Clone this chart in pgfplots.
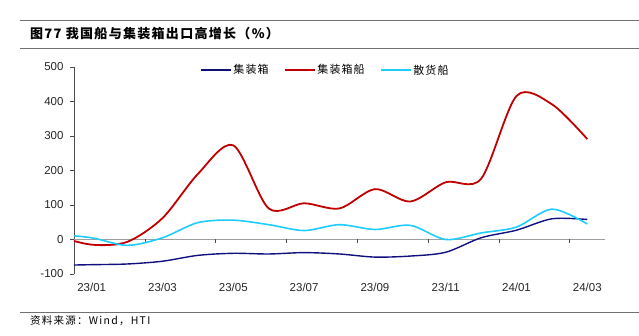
\documentclass[border=0pt]{standalone}
\usepackage{pgfplots}
\pgfplotsset{compat=1.18}
\usepackage{fontspec}
\setmainfont{Liberation Sans}
\newfontfamily\cjk{Noto Sans CJK SC}
\newfontfamily\cjktitle[LetterSpace=10]{Noto Sans CJK SC}
\newfontfamily\cjkspaced[LetterSpace=12]{Noto Sans CJK SC}
\newfontfamily\cjkleg[LetterSpace=10]{Noto Sans CJK SC}
\definecolor{cnavy}{HTML}{10107F}
\definecolor{cred}{HTML}{C00000}
\definecolor{ccyan}{HTML}{1ECCFF}
\definecolor{rulegray}{HTML}{707070}

\begin{document}
\begin{tikzpicture}
\path[use as bounding box] (-74pt,-62pt) rectangle (565pt,274pt);
\draw[rulegray, line width=0.9pt] (-54pt,254pt) -- (565pt,254pt);
\draw[rulegray, line width=0.9pt] (-54pt,226pt) -- (565pt,226pt);
\node[anchor=west, font=\cjktitle\bfseries\fontsize{13}{14}\selectfont, inner sep=0pt] at (-44pt,240pt) {图77 我国船与集装箱出口高增长（\%）};
\draw[rulegray, line width=0.9pt] (-54pt,-38pt) -- (565pt,-38pt);
\node[anchor=west, font=\cjkspaced\fontsize{10.5}{12}\selectfont, inner sep=0pt] at (-44pt,-47pt) {资料来源：Wind，HTI};

\begin{axis}[at={(0pt,0pt)}, anchor=south west, scale only axis,
  width=531pt, height=207pt,
  xmin=-0.5, xmax=14.5, ymin=-100, ymax=500,
  axis x line*=bottom, axis y line*=left,
  x axis line style={draw=none},
  y axis line style={draw=black!70, line width=0.6pt},
  xtick={0,2,...,14},
  xticklabels={23/01,23/03,23/05,23/07,23/09,23/11,24/01,24/03},
  x tick style={draw=none},
  ytick={-100,0,...,500},
  yticklabels={-100,0,100,200,300,400,500},
  y tick style={draw=black!70, line width=0.6pt},
  tick align=outside, major tick length=4pt,
  ticklabel style={font=\fontsize{11.5}{12}\selectfont, text=black!85},
  xticklabel style={yshift=-2pt},
  yticklabel style={xshift=-3pt},
  legend columns=3,
  legend style={at={(rel axis cs:0.237,0.985)}, anchor=west, draw=none, fill=none,
    font=\cjkleg\fontsize{11}{12}\selectfont, inner sep=0pt,
    /tikz/every even column/.append style={column sep=13pt}},
  legend image code/.code={\draw[#1] (0pt,0pt) -- (30pt,0pt);},
]
\draw[gray!75, line width=1.5pt] (axis cs:-0.5,0) -- (axis cs:14.5,0);
\draw[black!70, line width=0.6pt] (axis cs:1.5,0) -- ++(0pt,-4pt);
\draw[black!70, line width=0.6pt] (axis cs:3.5,0) -- ++(0pt,-4pt);
\draw[black!70, line width=0.6pt] (axis cs:5.5,0) -- ++(0pt,-4pt);
\draw[black!70, line width=0.6pt] (axis cs:7.5,0) -- ++(0pt,-4pt);
\draw[black!70, line width=0.6pt] (axis cs:9.5,0) -- ++(0pt,-4pt);
\draw[black!70, line width=0.6pt] (axis cs:11.5,0) -- ++(0pt,-4pt);
\draw[black!70, line width=0.6pt] (axis cs:13.5,0) -- ++(0pt,-4pt);

\addplot[cnavy, line width=1.4pt, smooth] coordinates {
(-1,-75) (0,-73) (1,-71) (2,-63) (3,-46) (4,-40) (5,-42) (6,-38) (7,-42)
(8,-51) (9,-48) (10,-37) (11,5) (12,27) (13,60) (14,58)};
\addlegendentry{集装箱}
\addplot[cred, line width=1.8pt, smooth] coordinates {
(-1,10) (0,-15) (1,-7) (2,62) (3,190) (4,273) (5,90) (6,105) (7,90)
(8,146) (9,110) (10,166) (11,176) (12,416) (13,392) (14,291)};
\addlegendentry{集装箱船}
\addplot[ccyan, line width=1.6pt, smooth] coordinates {
(-1,15) (0,5) (1,-17) (2,5) (3,49) (4,56) (5,43) (6,26) (7,43)
(8,29) (9,41) (10,0) (11,19) (12,36) (13,88) (14,45)};
\addlegendentry{散货船}
\end{axis}
\end{tikzpicture}
\end{document}
